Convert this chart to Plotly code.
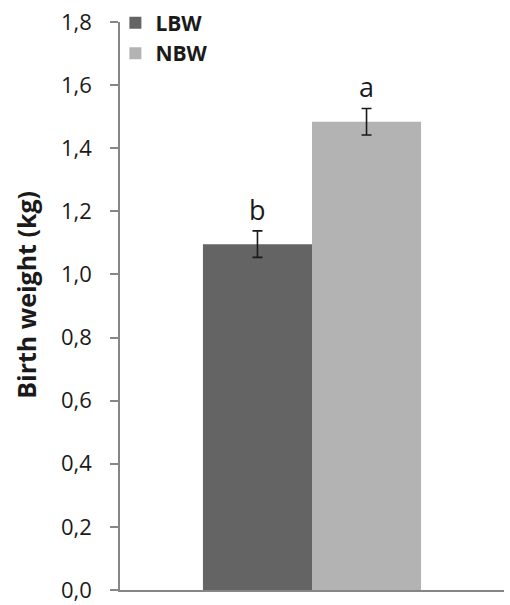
import plotly.graph_objects as go

categories = [""]
groups = ["LBW", "NBW"]
values = [1.096, 1.484]
errors = [0.042, 0.042]
letters = ["b", "a"]
colors = ["#646464", "#b3b3b3"]
tick_vals = [0.0, 0.2, 0.4, 0.6, 0.8, 1.0, 1.2, 1.4, 1.6, 1.8]
tick_text = ["0,0", "0,2", "0,4", "0,6", "0,8", "1,0", "1,2", "1,4", "1,6", "1,8"]

FONT = "Open Sans"
TXT = "#1a1a1a"
AX = "#868686"

fig = go.Figure()
for g, v, e, c in zip(groups, values, errors, colors):
    fig.add_trace(go.Bar(
        x=categories, y=[v], name="<b>" + g + "</b>",
        marker=dict(color=c, line=dict(width=0)),
        error_y=dict(type="data", array=[e], color=TXT, thickness=1.6, width=5),
        offsetgroup=g,
    ))

# significance letters above the error bars
xs = [-0.142, 0.142]
for xo, v, e, l in zip(xs, values, errors, letters):
    fig.add_annotation(x=xo, y=v + e, xref="x", yref="y", text=l, showarrow=False,
                       yanchor="bottom", yshift=1,
                       font=dict(family=FONT, size=27, color=TXT))

fig.add_annotation(x=-0.247, y=0.52, xref="paper", yref="paper",
                   text="<b>Birth weight (kg)</b>", textangle=-90, showarrow=False,
                   xanchor="center", yanchor="middle",
                   font=dict(family=FONT, size=25, color=TXT))

fig.update_layout(
    width=510, height=605,
    margin=dict(l=120, r=6, t=22, b=15, autoexpand=False),
    paper_bgcolor="white", plot_bgcolor="white",
    barmode="group", bargap=0.432, bargroupgap=0,
    font=dict(family=FONT, color=TXT),
    showlegend=True,
    legend=dict(x=-0.012, y=1.034, xanchor="left", yanchor="top",
                font=dict(family=FONT, size=21, color=TXT),
                bgcolor="rgba(0,0,0,0)", itemwidth=30, tracegroupgap=0),
    yaxis=dict(range=[0, 1.8], tickvals=tick_vals, ticktext=tick_text,
               ticks="outside", ticklen=8, tickcolor=AX, tickwidth=1.5,
               showline=True, linecolor=AX, linewidth=1.5,
               showgrid=False, zeroline=False, ticklabelstandoff=14,
               ticklabeloverflow="allow", automargin=False,
               tickfont=dict(family=FONT, size=22, color=TXT)),
    xaxis=dict(showline=True, linecolor=AX, linewidth=1.5, showticklabels=False,
               ticks="", showgrid=False, zeroline=False, range=[-0.5, 0.5],
               automargin=False),
)

fig.write_html("out.html")
